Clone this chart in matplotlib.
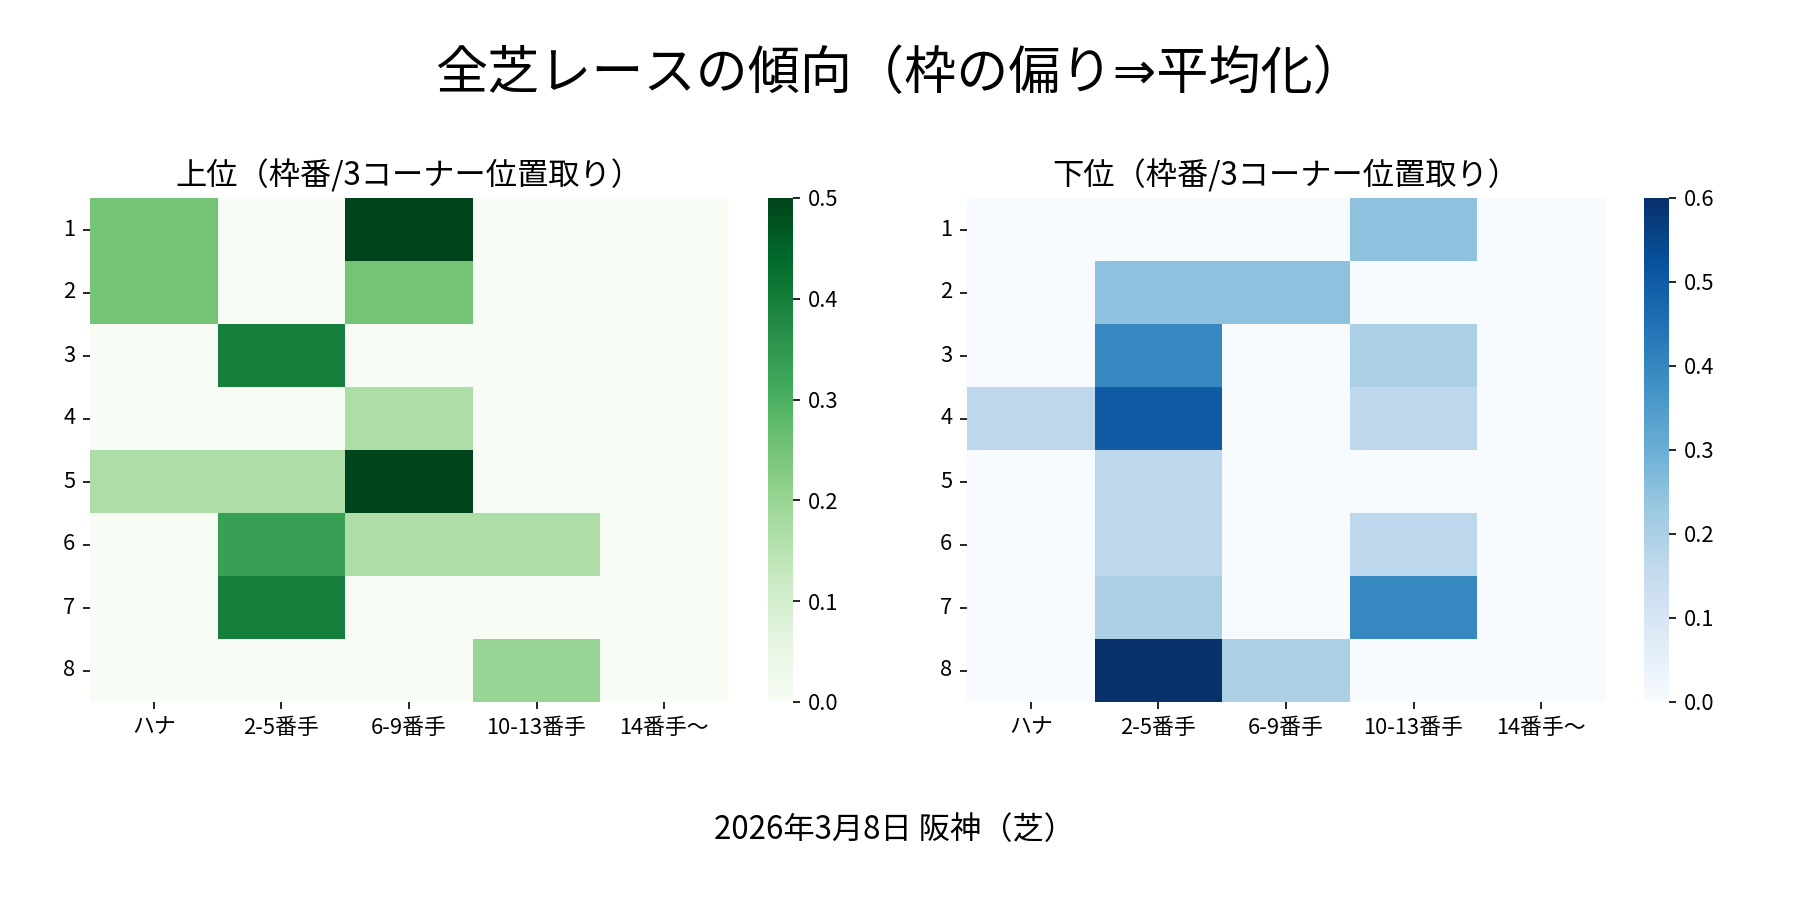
import matplotlib
matplotlib.use("Agg")
import matplotlib.pyplot as plt
import seaborn as sns
import numpy as np
import pandas as pd

plt.rcParams["font.family"] = ["Noto Sans CJK JP", "DejaVu Sans"]
plt.rcParams["axes.unicode_minus"] = False

# 枠番 / 3コーナー位置取り
WAKU = [1, 2, 3, 4, 5, 6, 7, 8]
POS = ["ハナ", "2-5番手", "6-9番手", "10-13番手", "14番手～"]

# 上位 (割合)
top_1 = [0.25, 0.0, 0.5, 0.0, 0.0]
top_2 = [0.25, 0.0, 0.25, 0.0, 0.0]
top_3 = [0.0, 0.4, 0.0, 0.0, 0.0]
top_4 = [0.0, 0.0, 0.167, 0.0, 0.0]
top_5 = [0.167, 0.167, 0.5, 0.0, 0.0]
top_6 = [0.0, 0.333, 0.167, 0.167, 0.0]
top_7 = [0.0, 0.4, 0.0, 0.0, 0.0]
top_8 = [0.0, 0.0, 0.0, 0.2, 0.0]

# 下位 (割合)
low_1 = [0.0, 0.0, 0.0, 0.25, 0.0]
low_2 = [0.0, 0.25, 0.25, 0.0, 0.0]
low_3 = [0.0, 0.4, 0.0, 0.2, 0.0]
low_4 = [0.167, 0.5, 0.0, 0.167, 0.0]
low_5 = [0.0, 0.167, 0.0, 0.0, 0.0]
low_6 = [0.0, 0.167, 0.0, 0.167, 0.0]
low_7 = [0.0, 0.2, 0.0, 0.4, 0.0]
low_8 = [0.0, 0.6, 0.2, 0.0, 0.0]

top = pd.DataFrame([top_1, top_2, top_3, top_4, top_5, top_6, top_7, top_8],
                   index=WAKU, columns=POS)
low = pd.DataFrame([low_1, low_2, low_3, low_4, low_5, low_6, low_7, low_8],
                   index=WAKU, columns=POS)

fig = plt.figure(figsize=(12, 6), dpi=150)

ax1 = fig.add_axes([0.05, 0.22, 0.3544, 0.56])
cb1 = fig.add_axes([0.4267, 0.22, 0.0139, 0.56])
ax2 = fig.add_axes([0.5372, 0.22, 0.3544, 0.56])
cb2 = fig.add_axes([0.9133, 0.22, 0.0139, 0.56])

sns.heatmap(top, ax=ax1, cbar_ax=cb1, cmap="Greens", vmin=0, vmax=top.values.max())
sns.heatmap(low, ax=ax2, cbar_ax=cb2, cmap="Blues", vmin=0, vmax=low.values.max())

for ax, title in [(ax1, "上位（枠番/3コーナー位置取り）"),
                  (ax2, "下位（枠番/3コーナー位置取り）")]:
    ax.set_title(title, fontsize=15, pad=6)
    ax.tick_params(labelsize=10.5)
    plt.setp(ax.get_yticklabels(), rotation=0)
    plt.setp(ax.get_xticklabels(), rotation=0)
    ax.set_xlabel("")
    ax.set_ylabel("")

for cb in (cb1, cb2):
    cb.tick_params(labelsize=10.5)

fig.suptitle("全芝レースの傾向（枠の偏り⇒平均化）", fontsize=25, y=0.944,
             family=["DejaVu Sans", "Noto Sans CJK JP"])
fig.text(0.497, 0.078, "2026年3月8日 阪神（芝）", ha="center", va="center", fontsize=15)

fig.savefig("out.png", dpi=150)
plt.close()
